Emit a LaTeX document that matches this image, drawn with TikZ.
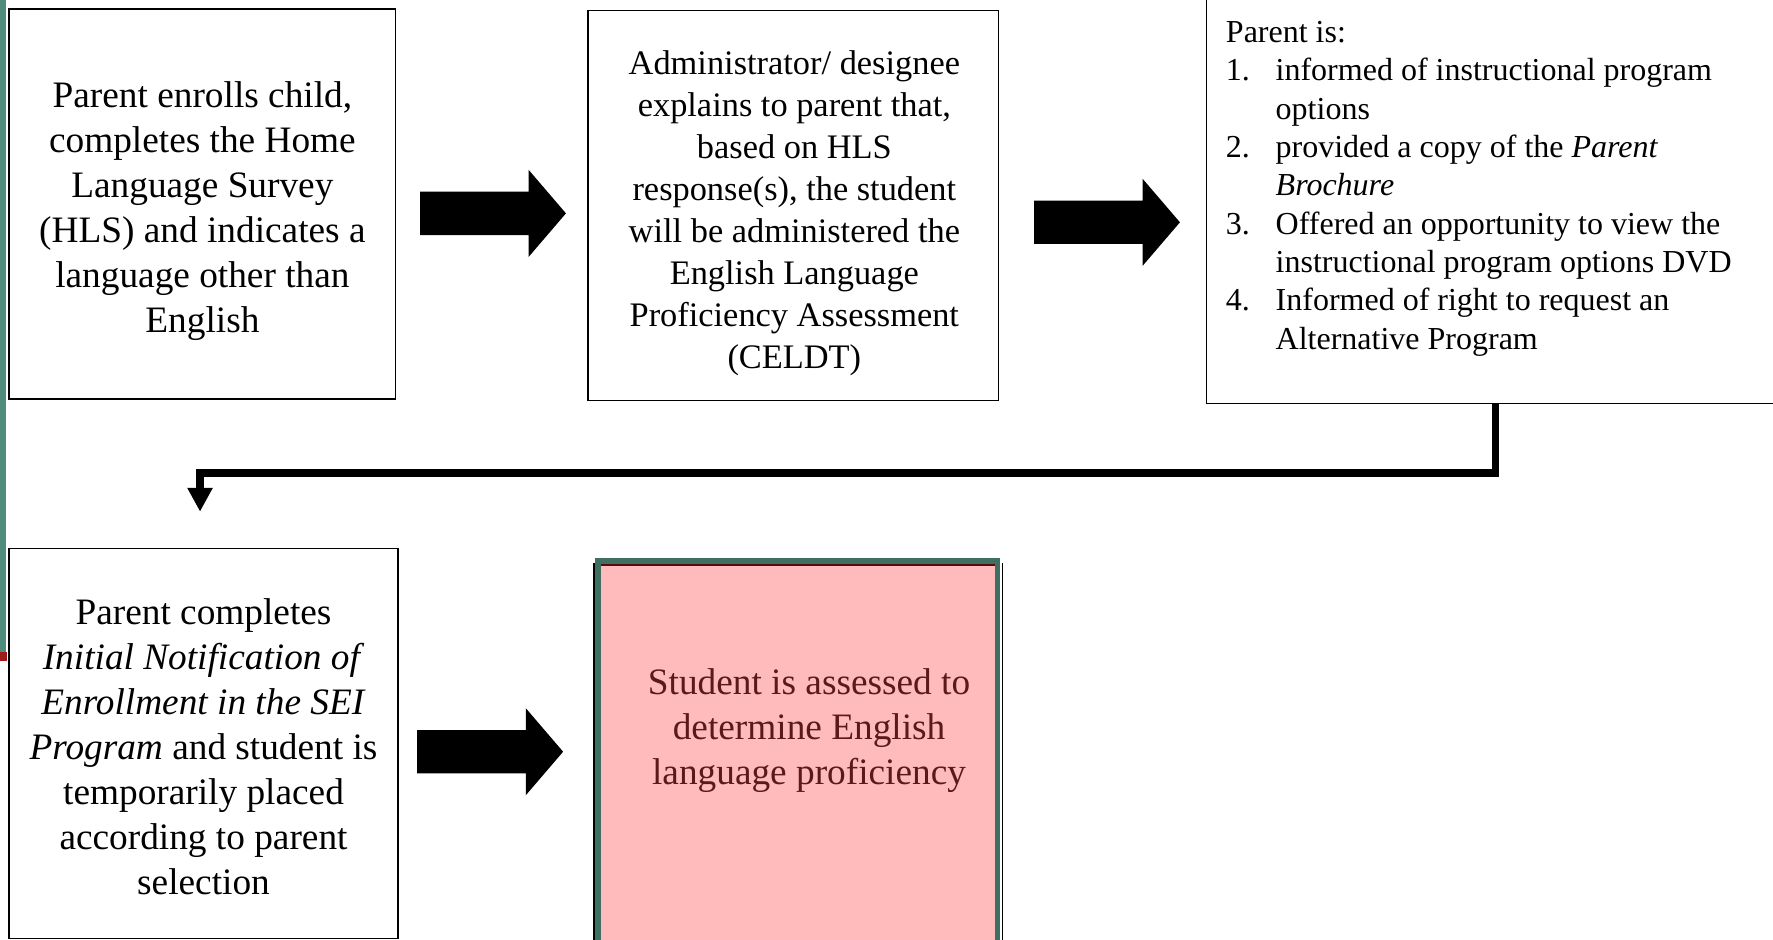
\documentclass[tikz,border=0pt]{standalone}
\usepackage{fontspec}
\setmainfont{Liberation Serif}
\usetikzlibrary{arrows.meta,calc}

\definecolor{stripteal}{HTML}{4F8C7D}
\definecolor{stripred}{HTML}{A01A1A}
\definecolor{frameteal}{HTML}{3F6F60}
\definecolor{boxpink}{HTML}{FFBBBB}
\definecolor{deepred}{HTML}{5A0A0A}
\definecolor{textmaroon}{HTML}{5A1A1A}

% type sizes of the three text blocks
\newcommand{\szA}{\fontsize{33pt}{39.8pt}\selectfont}
\newcommand{\szB}{\fontsize{30.4pt}{37.1pt}\selectfont}
\newcommand{\szC}{\fontsize{28.3pt}{33.9pt}\selectfont}
% numbered list with hanging indent
\newcommand{\numitem}[1]{\makebox[44pt][l]{#1}}
\newcommand{\hangin}{\hspace*{44pt}}

\tikzset{
  stepbox/.style={draw=black, line width=1.2pt, rectangle, inner sep=0pt, outer sep=0pt},
  txt/.style={inner sep=0pt, align=center},
  conn/.style={line width=6.8pt, -{Triangle[width=21pt,length=21pt]}},
  blockarrow/.pic={
    \fill[black] (0,-19.15) -- (96,-19.15) -- (96,-38.5) -- (129,0)
      -- (96,38.5) -- (96,19.15) -- (0,19.15) -- cycle;
  }
}

\begin{document}
\begin{tikzpicture}[x=1pt, y=-1pt]
\useasboundingbox (0,0) rectangle (1568,831);
\clip (0,0) rectangle (1568,831);

% slide edge decoration
\fill[stripteal] (0,0) rectangle (5.5,577);
\fill[stripred] (0,577) rectangle (6,585);

% process boxes
\node[stepbox, minimum width=342pt, minimum height=345pt] (b1) at (179,180.5) {};
\node[stepbox, minimum width=363pt, minimum height=345pt] (b2) at (701.5,181.5) {};
\node[stepbox, minimum width=533pt, minimum height=377pt] (b3) at (1333.5,168.5) {};
\node[stepbox, minimum width=344pt, minimum height=345pt] (b4) at (180,657.5) {};
\node[stepbox, draw=frameteal, fill=boxpink, line width=4.9pt,
      minimum width=353.4pt, minimum height=344pt] (b5) at (705.35,668) {};

% edge lines of the highlighted box
\draw[black, line width=1.3pt] ($(b5.north west)+(-3.25,2)$) -- ($(b5.south west)+(-3.25,0)$);
\draw[black, line width=1.3pt] ($(b5.north east)+(4.55,2)$) -- ($(b5.south east)+(4.55,0)$);
\draw[deepred, line width=1.4pt] ($(b5.north west)+(2.5,3.5)$) -- ($(b5.north east)+(-2.5,3.5)$);

% box texts
\node[txt, font=\szA] (t1) at (179,186.5) {Parent enrolls child,\\completes the Home\\Language Survey\\(HLS) and indicates a\\language other than\\English};

\node[txt, font=\szB] (t2) at (702.5,188.5) {Administrator/ designee\\explains to parent that,\\based on HLS\\response(s), the student\\will be administered the\\English Language\\Proficiency Assessment\\(CELDT)};

\node[inner sep=0pt, align=left, anchor=north west, font=\szC] (t3) at (1084,18.5) {Parent is:\\
\numitem{1.}informed of instructional program\\
\hangin options\\
\numitem{2.}provided a copy of the \textit{Parent}\\
\hangin\textit{Brochure}\\
\numitem{3.}Offered an opportunity to view the\\
\hangin instructional program options DVD\\
\numitem{4.}Informed of right to request an\\
\hangin Alternative Program};

\node[txt, font=\szA] (t4) at (180,660.5) {Parent completes\\\textit{Initial Notification of}\\\textit{Enrollment in the SEI}\\\textit{Program} and student is\\temporarily placed\\according to parent\\selection};

\node[txt, font=\szA, text=textmaroon] (t5) at (715.5,646.5) {Student is assessed to\\determine English\\language proficiency};

% block arrows between boxes
\pic at (371.5,188.7) {blockarrow};
\pic at (914.5,196.6) {blockarrow};
\pic at (369,664.8) {blockarrow};

% connector from the third box down to the second row
\coordinate (bend) at (1322.6,418.3);
\coordinate (drop) at (176.9,452.5);
\draw[conn] (b3.south -| bend) -- (bend) -| (drop);
\end{tikzpicture}
\end{document}
